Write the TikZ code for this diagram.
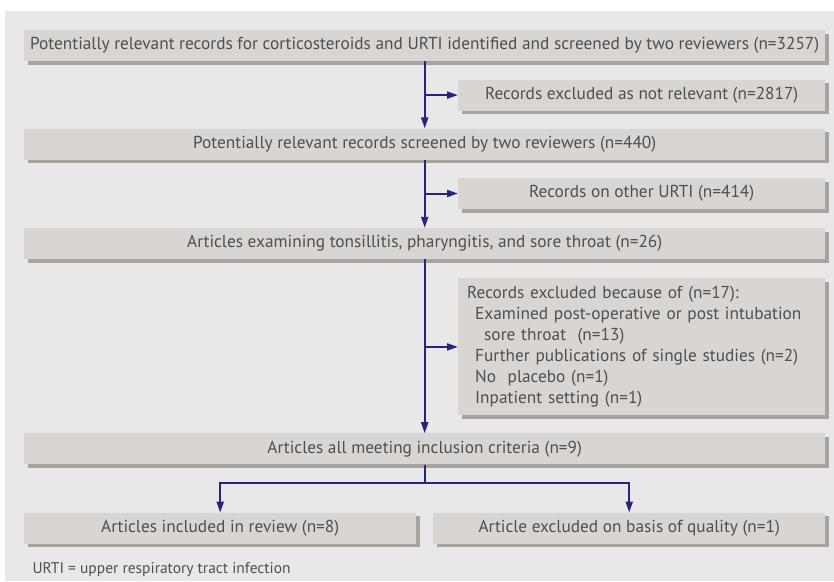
\documentclass[tikz,border=0pt]{standalone}
\usepackage{fontspec}
\setmainfont{PT Sans}
\usetikzlibrary{calc,positioning,arrows.meta,shadows}
\definecolor{panel}{HTML}{E8E8E8}
\definecolor{boxfill}{HTML}{D9D5D2}
\definecolor{boxshadow}{HTML}{A8A3A1}
\definecolor{flow}{HTML}{25257F}
\definecolor{txt}{HTML}{4F4F4F}
\newcommand\boxfont{\fontsize{17.3}{21}\selectfont}
\tikzstyle{line} = [draw=flow, line width=2pt, -{Triangle[length=11pt,width=7pt]}]

\begin{document}
\begin{tikzpicture}[
	x=1pt, y=1pt,
	stage/.style={
		rectangle,
		fill=boxfill,
		minimum height=31pt,
		inner sep=0pt,
		text=txt,
		font=\boxfont,
		drop shadow={shadow xshift=4pt, shadow yshift=-3.5pt, fill=boxshadow, opacity=1},
	},
	wide/.style={stage, minimum width=801pt},
	side/.style={stage, minimum width=367pt},
	half/.style={stage, minimum width=392pt},
]
	\useasboundingbox (0,0) rectangle (834,-581);
	\fill [panel] (5,-11) rectangle (834,-581);

	\node (screen) [wide, anchor=north west] at (24,-30)
		{Potentially relevant records for corticosteroids and URTI identified and screened by two reviewers (n=3257)};
	\node (notrel) [side, below left=18pt and 0pt of screen.south east]
		{Records excluded as not relevant (n=2817)};
	\node (second) [wide, below=67pt of screen]
		{Potentially relevant records screened by two reviewers (n=440)};
	\node (other) [side, below left=18pt and 0pt of second.south east]
		{Records on other URTI (n=414)};
	\node (throat) [wide, below=68pt of second]
		{Articles examining tonsillitis, pharyngitis, and sore throat (n=26)};
	\node (why) [side, below left=19pt and 0pt of throat.south east,
		minimum height=137pt, inner xsep=9pt, text width=349pt, align=left]
		{Records excluded because of (n=17):\\
		\hspace*{8pt}Examined post-operative or post intubation\\
		\hspace*{17pt}sore throat\ \ (n=13)\\
		\hspace*{8pt}Further publications of single studies (n=2)\\
		\hspace*{8pt}No\ \ placebo (n=1)\\
		\hspace*{8pt}Inpatient setting (n=1)};
	\node (meet) [wide, below=174pt of throat]
		{Articles all meeting inclusion criteria (n=9)};
	\node (incl) [half, below right=48pt and 0pt of meet.south west]
		{Articles included in review (n=8)};
	\node (qual) [half, below left=48pt and 0pt of meet.south east]
		{Article excluded on basis of quality (n=1)};
	\node (note) [anchor=base west, text=txt, font=\fontsize{15.5}{18}\selectfont] at (29,-573)
		{URTI = upper respiratory tract infection};

	\draw [line] (screen.south) -- (second.north);
	\draw [line] (screen.south |- notrel) -- (notrel);
	\draw [line] (second.south) -- (throat.north);
	\draw [line] (second.south |- other) -- (other);
	\draw [line] (throat.south) -- (meet.north);
	\draw [line] (throat.south |- why) -- (why);
	\coordinate (fork) at ([yshift=-18pt]meet.south);
	\draw [draw=flow, line width=2pt] (meet.south) -- (fork);
	\draw [line] (fork) -| (incl.north);
	\draw [line] (fork) -| (qual.north);


\end{tikzpicture}
\end{document}
